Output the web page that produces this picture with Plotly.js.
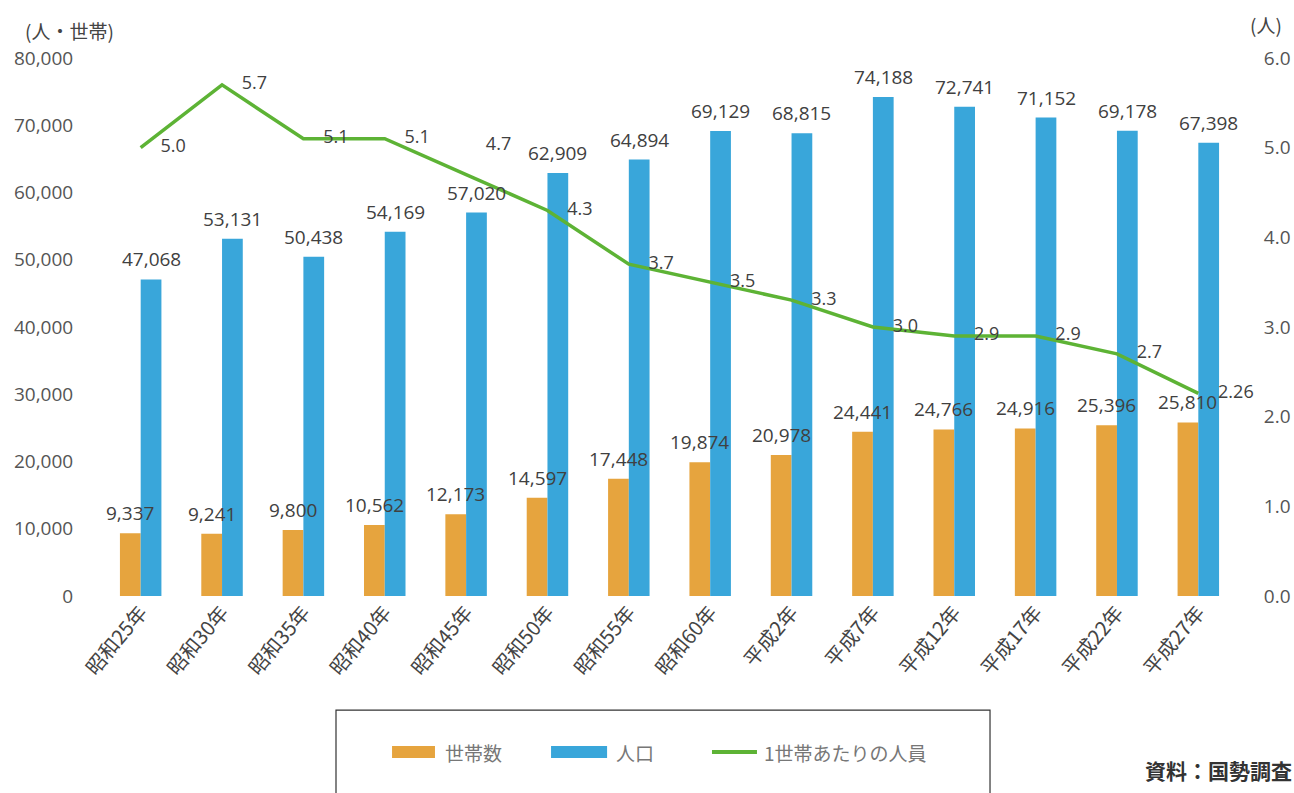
<!DOCTYPE html>
<html><head><meta charset="utf-8">
<script src="https://cdn.plot.ly/plotly-3.0.1.min.js"></script>
<style>html,body{margin:0;padding:0;background:#fff;}#chart{width:1294px;height:793px;}</style>
</head><body><div id="chart"></div>
<script>
const categories = ["昭和25年","昭和30年","昭和35年","昭和40年","昭和45年","昭和50年","昭和55年","昭和60年","平成2年","平成7年","平成12年","平成17年","平成22年","平成27年"];
const households = [9337,9241,9800,10562,12173,14597,17448,19874,20978,24441,24766,24916,25396,25810];
const population = [47068,53131,50438,54169,57020,62909,64894,69129,68815,74188,72741,71152,69178,67398];
const perHousehold = [5.0,5.7,5.1,5.1,4.7,4.3,3.7,3.5,3.3,3.0,2.9,2.9,2.7,2.26];
const perHouseholdLabels = ["5.0","5.7","5.1","5.1","4.7","4.3","3.7","3.5","3.3","3.0","2.9","2.9","2.7","2.26"];
const seriesNames = ["世帯数","人口","1世帯あたりの人員"];
const colors = {households:'#E6A43E', population:'#39A6DA', line:'#5DB335'};

const fmt = v => v.toLocaleString('en-US');
const FONT = '"Noto Sans CJK JP", "Noto Sans", sans-serif';
const NUMFONT = '"Open Sans", "Noto Sans", sans-serif';

const linePos = perHousehold.map((v,i)=> i===4 ? 'top right' : 'middle right');

const traces = [
  {type:'bar', name:seriesNames[0], x:categories, y:households, marker:{color:colors.households}, showlegend:false},
  {type:'bar', name:seriesNames[1], x:categories, y:population, marker:{color:colors.population}, showlegend:false},
  {type:'scatter', mode:'lines+markers+text', name:seriesNames[2], x:categories, y:perHousehold, yaxis:'y2',
   line:{color:colors.line, width:3.5}, marker:{size:30, opacity:0, color:colors.line},
   text:perHouseholdLabels, textposition:linePos, cliponaxis:false,
   textfont:{family:NUMFONT, size:18, color:'#404040'}, showlegend:false}
];

const labelFont = {family:NUMFONT, size:19, color:'#404040'};
const barLabels = [];
categories.forEach((c,i)=>{
  barLabels.push({x:c, y:households[i], text:fmt(households[i]), xref:'x', yref:'y', xshift:-10.4, yshift:5,
    xanchor:'center', yanchor:'bottom', showarrow:false, font:labelFont});
  barLabels.push({x:c, y:population[i], text:fmt(population[i]), xref:'x', yref:'y', xshift:10.4, yshift:5,
    xanchor:'center', yanchor:'bottom', showarrow:false, font:labelFont});
});

const legFont = {family:FONT, size:19, color:'#777'};
const legY = -0.29;
const legendAnn = [
  {text:seriesNames[0], x:0.3011, y:legY, xref:'paper', yref:'paper', xanchor:'left', yanchor:'middle', showarrow:false, font:legFont},
  {text:seriesNames[1], x:0.4513, y:legY, xref:'paper', yref:'paper', xanchor:'left', yanchor:'middle', showarrow:false, font:legFont},
  {text:seriesNames[2], x:0.5812, y:legY, xref:'paper', yref:'paper', xanchor:'left', yanchor:'middle', showarrow:false, font:legFont}
];
const legendShapes = [
  {type:'rect', xref:'paper', yref:'paper', x0:0.2564, x1:0.2941, y0:legY-0.0112, y1:legY+0.0112, line:{width:0}, fillcolor:colors.households},
  {type:'rect', xref:'paper', yref:'paper', x0:0.3960, x1:0.4452, y0:legY-0.0112, y1:legY+0.0112, line:{width:0}, fillcolor:colors.population},
  {type:'line', xref:'paper', yref:'paper', x0:0.5373, x1:0.5768, y0:legY, y1:legY, line:{color:colors.line, width:4}},
  {type:'rect', xref:'paper', yref:'paper', x0:0.2072, x1:0.7814, y0:-0.212, y1:-0.40, line:{color:'#333', width:1.2}, fillcolor:'rgba(0,0,0,0)'}
];

const layout = {
  width:1294, height:793,
  margin:{l:100, r:55, t:58, b:197},
  paper_bgcolor:'#fff', plot_bgcolor:'#fff',
  font:{family:FONT, color:'#555'},
  barmode:'group', bargap:0.49, bargroupgap:0,
  showlegend:false,
  xaxis:{range:[-0.5, 13.5], tickangle:-50, tickfont:{family:FONT, size:20, color:'#444'}, showline:false, ticks:'', showgrid:false},
  yaxis:{range:[0,80000], dtick:10000, tickformat:',', showgrid:false, zeroline:false, showline:false,
         ticks:'outside', ticklen:22, tickcolor:'rgba(0,0,0,0)',
         tickfont:{family:NUMFONT, size:19, color:'#555'}},
  yaxis2:{range:[0,6], dtick:1, tickformat:'.1f', overlaying:'y', side:'right', showgrid:false, zeroline:false, showline:false,
          ticks:'outside', ticklen:20, tickcolor:'rgba(0,0,0,0)',
          tickfont:{family:NUMFONT, size:19, color:'#555'}},
  shapes: legendShapes,
  annotations: barLabels.concat(legendAnn, [
    {text:'(人・世帯)', xref:'paper', yref:'paper', x:-0.027, y:1.052, xanchor:'center', yanchor:'middle', showarrow:false,
     font:{family:FONT, size:19, color:'#444'}},
    {text:'(人)', xref:'paper', yref:'paper', x:1.024, y:1.063, xanchor:'center', yanchor:'middle', showarrow:false,
     font:{family:FONT, size:19, color:'#444'}},
    {text:'<b>資料：国勢調査</b>', xref:'paper', yref:'paper', x:0.916, y:-0.323, xanchor:'left', yanchor:'middle', showarrow:false,
     font:{family:FONT, size:21, color:'#333'}}
  ])
};
Plotly.newPlot('chart', traces, layout, {displayModeBar:false, staticPlot:true});
</script></body></html>
